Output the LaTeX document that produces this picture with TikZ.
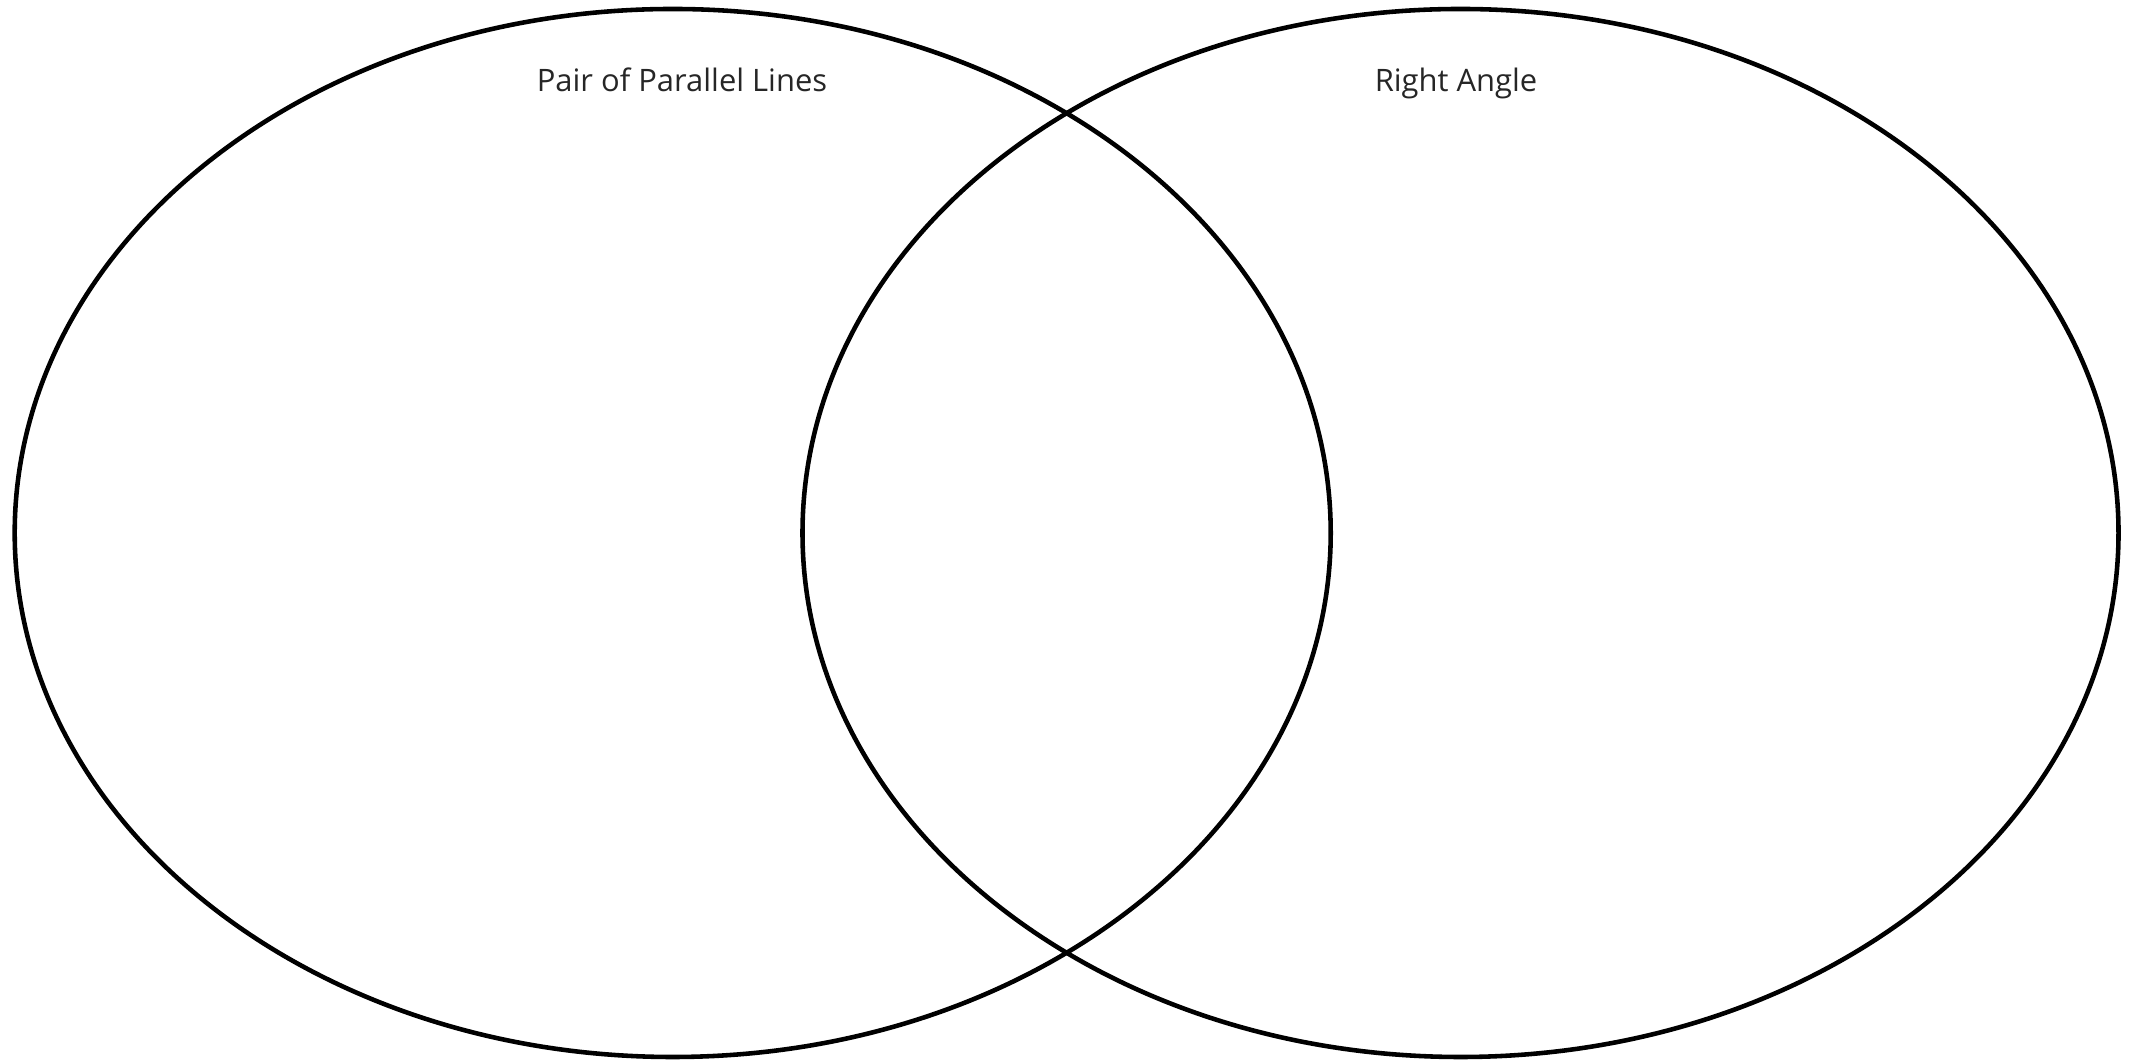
\documentclass[tikz,border=0pt]{standalone}
\usepackage{fontspec}
\setmainfont{Open Sans}
\usepackage{xcolor}
\usepackage{tikz}
\usetikzlibrary{shapes.geometric,positioning}

\begin{document}
\begin{tikzpicture}[
  set/.style={draw, ellipse, line width=1.3pt, minimum width=13.16cm, minimum height=10.48cm, inner sep=0pt},
  setlabel/.style={anchor=base, font=\fontsize{8.8}{11}\selectfont, text=black!85}
]
\useasboundingbox (0,0) rectangle (21.34,10.6);
\node[set] (lset) at (6.727,5.27) {};
\node[set] (rset) at (14.605,5.27) {};
\node[setlabel] (ltitle) at (6.82,9.68) {Pair of Parallel Lines};
\node[setlabel] (rtitle) at (14.56,9.68) {Right Angle};
\end{tikzpicture}
\end{document}
